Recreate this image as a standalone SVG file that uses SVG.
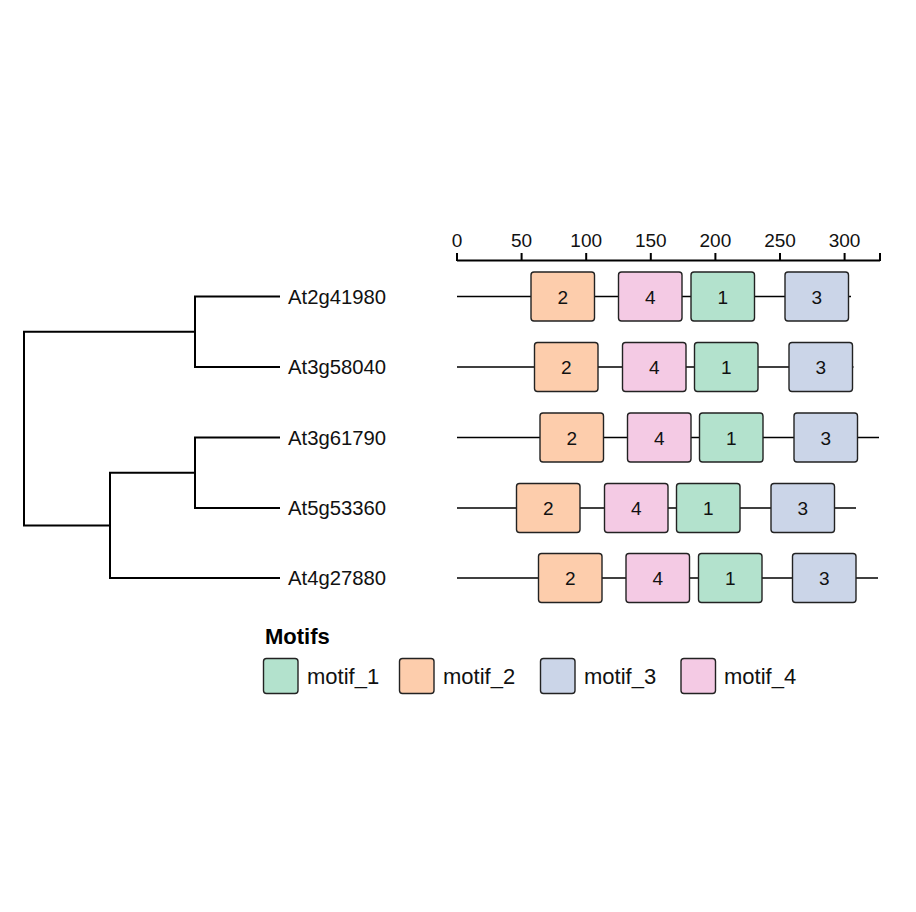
<svg xmlns="http://www.w3.org/2000/svg" width="916" height="912" viewBox="0 0 916 912">
<style>
.bg{fill:#ffffff}
.tree{fill:none;stroke:#000;stroke-width:2;stroke-linecap:square}
.axis{fill:none;stroke:#000;stroke-width:2}
.bb{stroke:#000;stroke-width:1.3}
.box{stroke:#222;stroke-width:1.4}
.m1{fill:#b3e2cd}.m2{fill:#fdcdac}.m3{fill:#cbd5e8}.m4{fill:#f4cae4}
.lab{font-family:"Liberation Sans",Arial,sans-serif;font-size:20.3px;fill:#111}
.tick{font-family:"Liberation Sans",Arial,sans-serif;font-size:19px;fill:#111;text-anchor:middle}
.num{font-family:"Liberation Sans",Arial,sans-serif;font-size:19px;fill:#111;text-anchor:middle}
.leg{font-family:"Liberation Sans",Arial,sans-serif;font-size:22px;fill:#111}
.title{font-family:"Liberation Sans",Arial,sans-serif;font-size:22px;font-weight:bold;fill:#000}
</style>
<rect class="bg" x="0" y="0" width="916" height="912"/>

<g id="connectors">
<path class="tree" d="M24,331.75 V525.4 M24,331.75 H195 M195,296.5 V367 M195,296.5 H279 M195,367 H279 M24,525.4 H110 M110,472.75 V578 M110,472.75 H195 M110,578 H279 M195,437.5 V508 M195,437.5 H279 M195,508 H279"/>
</g>

<g id="axis">
<path class="axis" d="M457,260.5 H880 M457,253 V261 M521.6,253 V261 M586.2,253 V261 M650.8,253 V261 M715.4,253 V261 M780,253 V261 M844.6,253 V261 M880,253 V261"/>
<text class="tick" x="457" y="247">0</text>
<text class="tick" x="521.6" y="247">50</text>
<text class="tick" x="586.2" y="247">100</text>
<text class="tick" x="650.8" y="247">150</text>
<text class="tick" x="715.4" y="247">200</text>
<text class="tick" x="780" y="247">250</text>
<text class="tick" x="844.6" y="247">300</text>
</g>

<g id="row1">
<text class="lab" x="288" y="303.5">At2g41980</text>
<line class="bb" x1="457" y1="296.5" x2="851" y2="296.5"/>
<rect class="box m2" x="531" y="272" width="63.5" height="49" rx="3"/><text class="num" x="562.75" y="303.5">2</text>
<rect class="box m4" x="618.5" y="272" width="63.5" height="49" rx="3"/><text class="num" x="650.25" y="303.5">4</text>
<rect class="box m1" x="691" y="272" width="63.5" height="49" rx="3"/><text class="num" x="722.75" y="303.5">1</text>
<rect class="box m3" x="785" y="272" width="63.5" height="49" rx="3"/><text class="num" x="816.75" y="303.5">3</text>
</g>

<g id="row2">
<text class="lab" x="288" y="374">At3g58040</text>
<line class="bb" x1="457" y1="367" x2="853.5" y2="367"/>
<rect class="box m2" x="534.5" y="342.5" width="63.5" height="49" rx="3"/><text class="num" x="566.25" y="374">2</text>
<rect class="box m4" x="622.5" y="342.5" width="63.5" height="49" rx="3"/><text class="num" x="654.25" y="374">4</text>
<rect class="box m1" x="694.5" y="342.5" width="63.5" height="49" rx="3"/><text class="num" x="726.25" y="374">1</text>
<rect class="box m3" x="789" y="342.5" width="63.5" height="49" rx="3"/><text class="num" x="820.75" y="374">3</text>
</g>

<g id="row3">
<text class="lab" x="288" y="444.5">At3g61790</text>
<line class="bb" x1="457" y1="437.5" x2="879" y2="437.5"/>
<rect class="box m2" x="540" y="413" width="63.5" height="49" rx="3"/><text class="num" x="571.75" y="444.5">2</text>
<rect class="box m4" x="627.5" y="413" width="63.5" height="49" rx="3"/><text class="num" x="659.25" y="444.5">4</text>
<rect class="box m1" x="699.5" y="413" width="63.5" height="49" rx="3"/><text class="num" x="731.25" y="444.5">1</text>
<rect class="box m3" x="794" y="413" width="63.5" height="49" rx="3"/><text class="num" x="825.75" y="444.5">3</text>
</g>

<g id="row4">
<text class="lab" x="288" y="515">At5g53360</text>
<line class="bb" x1="457" y1="508" x2="856" y2="508"/>
<rect class="box m2" x="516.5" y="483.5" width="63.5" height="49" rx="3"/><text class="num" x="548.25" y="515">2</text>
<rect class="box m4" x="604.5" y="483.5" width="63.5" height="49" rx="3"/><text class="num" x="636.25" y="515">4</text>
<rect class="box m1" x="676.5" y="483.5" width="63.5" height="49" rx="3"/><text class="num" x="708.25" y="515">1</text>
<rect class="box m3" x="771" y="483.5" width="63.5" height="49" rx="3"/><text class="num" x="802.75" y="515">3</text>
</g>

<g id="row5">
<text class="lab" x="288" y="585">At4g27880</text>
<line class="bb" x1="457" y1="578" x2="878" y2="578"/>
<rect class="box m2" x="538.5" y="553.5" width="63.5" height="49" rx="3"/><text class="num" x="570.25" y="585">2</text>
<rect class="box m4" x="626" y="553.5" width="63.5" height="49" rx="3"/><text class="num" x="657.75" y="585">4</text>
<rect class="box m1" x="698.5" y="553.5" width="63.5" height="49" rx="3"/><text class="num" x="730.25" y="585">1</text>
<rect class="box m3" x="792.5" y="553.5" width="63.5" height="49" rx="3"/><text class="num" x="824.25" y="585">3</text>
</g>

<g id="legend">
<text class="title" x="265" y="644">Motifs</text>
<rect class="box m1" x="263.5" y="658.5" width="34.5" height="35" rx="3"/><text class="leg" x="307" y="684">motif_1</text>
<rect class="box m2" x="399.5" y="658.5" width="34.5" height="35" rx="3"/><text class="leg" x="443" y="684">motif_2</text>
<rect class="box m3" x="540.5" y="658.5" width="34.5" height="35" rx="3"/><text class="leg" x="584" y="684">motif_3</text>
<rect class="box m4" x="681" y="658.5" width="34.5" height="35" rx="3"/><text class="leg" x="724" y="684">motif_4</text>
</g>
</svg>
